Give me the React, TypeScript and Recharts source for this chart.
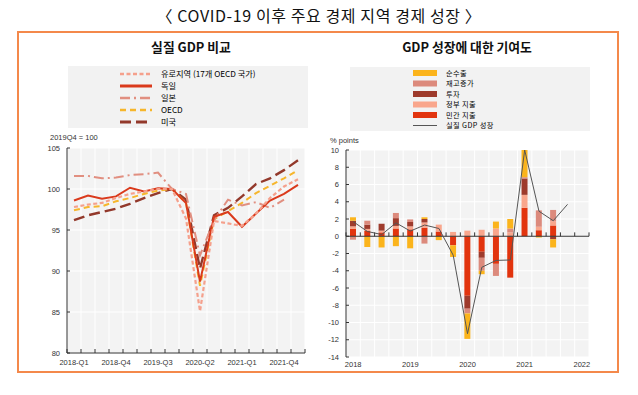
import React from 'react';
import { LineChart, Line, XAxis, YAxis, CartesianGrid, ComposedChart, Bar, ReferenceLine } from 'recharts';

// ---------- data ----------
const quarters = ['2018-Q1','2018-Q2','2018-Q3','2018-Q4','2019-Q1','2019-Q2','2019-Q3','2019-Q4','2020-Q1','2020-Q2','2020-Q3','2020-Q4','2021-Q1','2021-Q2','2021-Q3','2021-Q4','2022-Q1'];
const levelTickLabels = ['2018-Q1','2018-Q4','2019-Q3','2020-Q2','2021-Q1','2021-Q4'];
const yearTickLabels = ['2018','2019','2020','2021','2022'];
const levelYTicks = [80, 85, 90, 95, 100, 105];
const contribYTicks = [-14, -12, -10, -8, -6, -4, -2, 0, 2, 4, 6, 8, 10];

// Real GDP, 2019Q4 = 100
const euroArea = [97.8, 98.1, 98.3, 98.9, 99.4, 99.7, 100.0, 100.0, 96.4, 85.1, 96.1, 95.8, 95.5, 97.0, 98.9, 100.3, 101.2];
const germany = [98.6, 99.2, 98.8, 99.1, 100.15, 99.7, 100.1, 100.0, 98.3, 88.7, 96.6, 97.2, 95.4, 97.0, 98.6, 99.4, 100.5];
const japan = [101.6, 101.6, 101.3, 101.4, 101.7, 101.8, 102.0, 100.0, 99.4, 91.9, 96.2, 98.7, 98.0, 98.4, 97.7, 98.7, null];
const oecd = [97.4, 97.8, 97.9, 98.5, 98.9, 99.4, 99.8, 100.0, 98.3, 88.2, 96.3, 97.3, 98.3, 99.5, 100.4, 101.3, 102.3];
const usa = [96.2, 96.8, 97.2, 97.6, 98.2, 98.9, 99.5, 100.0, 98.7, 90.3, 96.8, 97.7, 99.1, 100.6, 101.3, 102.3, 103.5];

// Contributions to GDP growth, % points
const privateCons = [0.85, 0.65, 0.45, 0.9, 0.8, 1.0, 0.55, -1.05, -6.9, -1.8, -3.2, -4.8, 3.3, 0.7, 1.25];
const govCons = [0.3, 0.2, 0.2, 0.3, 0.35, 0.6, 0.8, 0.5, 0.65, 0.75, 0.9, 0.45, 1.5, 0.4, 0.5];
const investment = [0.65, 0.5, 0.8, 0.9, 0.5, 0.4, 0, 0, -1.5, -0.7, 0, 0, 1.9, 0, -0.35];
const inventories = [-0.4, 0.45, 0, 0.6, 0.3, -0.85, 0, 0, -0.55, -1.5, -1.4, 0.45, 0.15, 1.9, 1.3];
const netExports = [0.4, -1.25, -1.3, -1.15, -1.4, 0.2, -0.45, -1.35, -2.95, -0.4, 0.8, 1.1, 3.15, -0.15, -0.95];
const gdpGrowth = [1.7, 0.55, 0.2, 1.55, 0.6, 1.3, 0.9, -2.2, -11.3, -3.6, -2.8, -2.75, 10.0, 2.9, 1.8, 3.7];

// ---------- styles ----------
const KR = '"Noto Sans CJK KR", "Noto Sans", sans-serif';
const NUM = '"Liberation Sans", Arial, sans-serif';

const levelSeries = [
  { key: 'euro', name: '유로지역 (17개 OECD 국가)', color: '#f5a08c', dash: '4 2.5', width: 2.2, legendWidth: 2.6 },
  { key: 'deu', name: '독일', color: '#da3a1c', dash: undefined, width: 2, legendWidth: 3 },
  { key: 'jpn', name: '일본', color: '#e18f80', dash: '10 4 2 4', width: 2, legendWidth: 2.4 },
  { key: 'oecd', name: 'OECD', color: '#f6b62c', dash: '6 4', width: 2, legendWidth: 2.4 },
  { key: 'usa', name: '미국', color: '#93392b', dash: '11 5', width: 2.4, legendWidth: 3 },
];
const levelValues: Record<string, (number | null)[]> = { euro: euroArea, deu: germany, jpn: japan, oecd, usa };

const contribSeries = [
  { key: 'net', name: '순수출', color: '#fbb41c', values: netExports },
  { key: 'inv', name: '재고증가', color: '#dc8a7c', values: inventories },
  { key: 'gfcf', name: '투자', color: '#9e3b2c', values: investment },
  { key: 'gov', name: '정부 지출', color: '#f9a68c', values: govCons },
  { key: 'priv', name: '민간 지출', color: '#e2340e', values: privateCons },
];
const stackOrder = ['priv', 'gov', 'gfcf', 'inv', 'net'];

const boundaries = quarters.map((_, i) => i - 0.5).concat([quarters.length - 0.5]);
const levelLabelIdx = levelTickLabels.map((l) => quarters.indexOf(l));
const yearLabelIdx = yearTickLabels.map((y) => quarters.indexOf(y + '-Q1'));

const levelData = quarters.map((q, i) => {
  const row: any = { x: i, q };
  levelSeries.forEach((s) => { row[s.key] = levelValues[s.key][i] ?? null; });
  return row;
});

const contribData = gdpGrowth.map((g, i) => {
  const row: any = { x: i, q: quarters[i], gdp: g };
  contribSeries.forEach((s) => { row[s.key] = s.values[i] ?? null; });
  return row;
});

// ---------- ticks ----------
function LevelXTick(props: any) {
  const { x, y, payload } = props;
  const v = payload.value;
  if (!Number.isInteger(v)) {
    return <line x1={x} x2={x} y1={y} y2={y - 4} stroke="#333" strokeWidth={1} />;
  }
  return (
    <text x={x} y={y + 11.5} textAnchor="middle" fontSize={7.5} fill="#333" fontFamily={NUM}>
      {quarters[v]}
    </text>
  );
}

function YearXTick(props: any) {
  const { x, y, payload } = props;
  const v = payload.value;
  return (
    <text x={x} y={y + 9.8} textAnchor="middle" fontSize={7.5} fill="#333" fontFamily={NUM}>
      {quarters[v].slice(0, 4)}
    </text>
  );
}

function YTick(props: any) {
  const { x, y, payload } = props;
  return (
    <g>
      <line x1={x} x2={x + 3} y1={y} y2={y} stroke="#333" strokeWidth={1} />
      <text x={x - 7} y={y + 2.7} textAnchor="end" fontSize={7.5} fill="#333" fontFamily={NUM}>
        {payload.value}
      </text>
    </g>
  );
}

export default function App() {
  const leftLegendY = [74, 86, 98, 110, 122];
  const rightLegendY = [73, 83.5, 94, 104.5, 115, 125.5];
  return (
    <div style={{ position: 'absolute', left: 0, top: 0, width: 638, height: 395, background: '#fff', overflow: 'hidden', fontFamily: KR }}>
      <div style={{ position: 'absolute', left: 0, top: 4, width: 638, textAlign: 'center', fontSize: 16, letterSpacing: '0.6px', lineHeight: '22px', color: '#111', fontFamily: KR }}>
        〈 COVID-19 이후 주요 경제 지역 경제 성장 〉
      </div>
      <div style={{ position: 'absolute', left: 17, top: 31, width: 598, height: 338, border: '2px solid #f4894b' }} />

      <svg width={638} height={395} style={{ position: 'absolute', left: 0, top: 0 }}>
        <text x={191} y={51.5} textAnchor="middle" fontSize={12.8} fontWeight="bold" fill="#111" fontFamily={KR}>실질 GDP 비교</text>
        <text x={467} y={51.5} textAnchor="middle" fontSize={12.8} fontWeight="bold" fill="#111" fontFamily={KR}>GDP 성장에 대한 기여도</text>

        <rect x={68} y={66} width={240} height={62} fill="#f2f2f2" />
        {levelSeries.map((s, i) => (
          <g key={s.key}>
            <line x1={120} x2={152} y1={leftLegendY[i]} y2={leftLegendY[i]} stroke={s.color} strokeWidth={s.legendWidth} strokeDasharray={s.dash} />
            <text x={161} y={leftLegendY[i] + 3} fontSize={8.2} fill="#000" fontFamily={KR}>{s.name}</text>
          </g>
        ))}

        <rect x={350} y={67} width={240} height={64} fill="#f2f2f2" />
        {contribSeries.map((s, i) => (
          <g key={s.key}>
            <rect x={413} y={rightLegendY[i] - 3} width={24} height={6} fill={s.color} />
            <text x={446} y={rightLegendY[i] + 2.7} fontSize={7.2} letterSpacing="0.4" fill="#000" fontFamily={KR}>{s.name}</text>
          </g>
        ))}
        <line x1={413} x2={437} y1={rightLegendY[5]} y2={rightLegendY[5]} stroke="#555" strokeWidth={1} />
        <text x={446} y={rightLegendY[5] + 2.7} fontSize={7.2} letterSpacing="0.4" fill="#000" fontFamily={KR}>실질 GDP 성장</text>

        <text x={50} y={139.5} fontSize={7.5} fill="#333" fontFamily={NUM}>2019Q4 = 100</text>
        <text x={330} y={142.5} fontSize={7.5} fill="#333" fontFamily={NUM}>% points</text>
      </svg>

      <div style={{ position: 'absolute', left: 20, top: 140 }}>
        <LineChart width={300} height={240} data={levelData} margin={{ top: 8, right: 15, bottom: 5, left: 0 }}>
          <CartesianGrid fill="#f3f3f3" stroke="#ffffff" strokeWidth={1} verticalValues={boundaries} />
          <XAxis
            dataKey="x"
            type="number"
            domain={[-0.5, quarters.length - 0.5]}
            ticks={[...boundaries, ...levelLabelIdx]}
            interval={0}
            tickSize={0}
            tickMargin={0}
            tickLine={false}
            height={22}
            axisLine={{ stroke: '#333', strokeWidth: 1 }}
            tick={<LevelXTick />}
          />
          <YAxis
            type="number"
            domain={[80, 105]}
            ticks={levelYTicks}
            interval={0}
            width={47}
            tickSize={0}
            tickMargin={0}
            tickLine={false}
            axisLine={{ stroke: '#333', strokeWidth: 1 }}
            tick={<YTick />}
          />
          {[...levelSeries].reverse().map((s) => (
            <Line
              key={s.key}
              dataKey={s.key}
              name={s.name}
              type="linear"
              stroke={s.color}
              strokeWidth={s.width}
              strokeDasharray={s.dash}
              dot={false}
              activeDot={false}
              connectNulls={false}
              isAnimationActive={false}
            />
          ))}
        </LineChart>
      </div>

      <div style={{ position: 'absolute', left: 320, top: 140 }}>
        <ComposedChart width={300} height={240} data={contribData} stackOffset="sign" margin={{ top: 10, right: 31, bottom: 5, left: 0 }}>
          <CartesianGrid fill="#f3f3f3" stroke="#ffffff" strokeWidth={1} verticalValues={boundaries} />
          <XAxis
            dataKey="x"
            type="number"
            domain={[-0.5, quarters.length - 0.5]}
            ticks={yearLabelIdx}
            interval={0}
            tickSize={0}
            tickMargin={0}
            tickLine={false}
            height={18}
            axisLine={false}
            tick={<YearXTick />}
          />
          <YAxis
            type="number"
            domain={[-14, 10]}
            ticks={contribYTicks}
            interval={0}
            width={26}
            tickSize={0}
            tickMargin={0}
            tickLine={false}
            axisLine={{ stroke: '#333', strokeWidth: 1 }}
            tick={<YTick />}
          />
          {stackOrder.map((k) => {
            const s = contribSeries.find((c) => c.key === k)!;
            return <Bar key={k} dataKey={k} name={s.name} stackId="c" fill={s.color} barSize={6} isAnimationActive={false} />;
          })}
          <ReferenceLine y={0} stroke="#333" strokeWidth={1.2} />
          {boundaries.map((b) => (
            <ReferenceLine key={'t' + b} segment={[{ x: b, y: 0 }, { x: b, y: 0.45 }]} stroke="#333" strokeWidth={1} />
          ))}
          <Line dataKey="gdp" name="실질 GDP 성장" type="linear" stroke="#555" strokeWidth={1} dot={false} activeDot={false} isAnimationActive={false} />
        </ComposedChart>
      </div>
    </div>
  );
}
